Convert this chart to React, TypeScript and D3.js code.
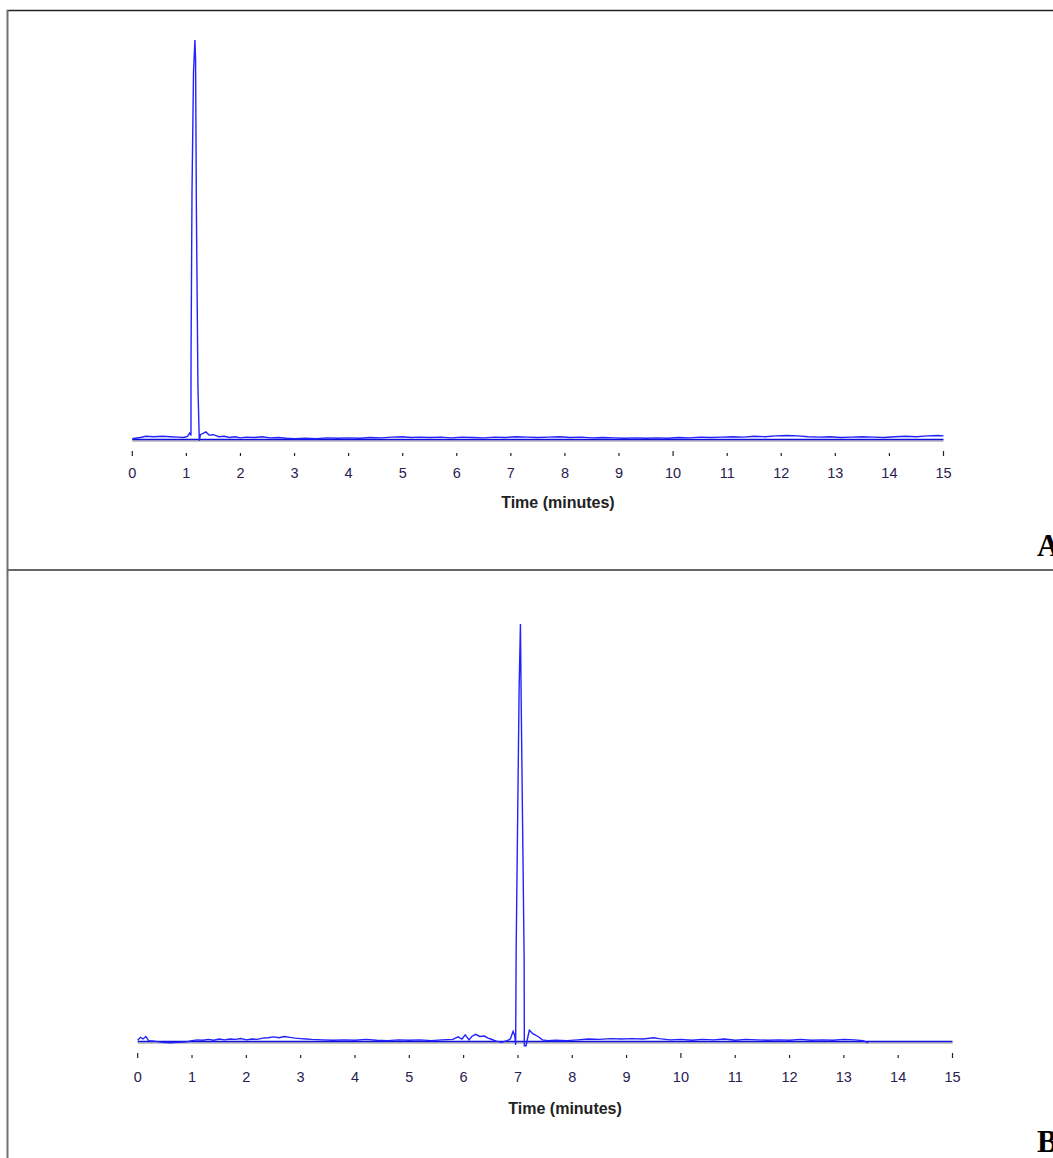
import React from "react";
import * as d3 from "d3";

// ---- data ----
const tickValues = [0, 1, 2, 3, 4, 5, 6, 7, 8, 9, 10, 11, 12, 13, 14, 15];
const majorTicks = [0, 10, 15];
const axisTitle = "Time (minutes)";
const panelLabels = ["A", "B"];

// Panel A chromatogram: [time (min), response (% of peak)]
const traceA: [number, number][] = [
  [0.0, 0.2], [0.15, 0.5], [0.25, 0.8], [0.4, 0.7], [0.55, 0.8], [0.7, 0.7], [0.85, 0.6], [0.95, 0.5],
  [1.02, 0.8], [1.06, 1.6], [1.08, 1.2], [1.085, 1.0], [1.086, 20.5], [1.104, 62], [1.132, 92],
  [1.158, 100], [1.17, 95], [1.185, 58], [1.214, 13], [1.239, -0.3], [1.26, 1.2], [1.3, 1.5],
  [1.36, 1.9], [1.42, 1.1], [1.5, 1.2], [1.6, 0.7], [1.7, 0.8], [1.8, 0.5], [1.9, 0.7], [2.0, 0.4],
  [2.1, 0.6], [2.25, 0.5], [2.4, 0.7], [2.55, 0.4], [2.7, 0.5], [2.85, 0.3], [3.0, 0.2], [3.2, 0.3],
  [3.4, 0.2], [3.6, 0.4], [3.8, 0.3], [4.0, 0.4], [4.2, 0.3], [4.4, 0.5], [4.6, 0.4], [4.8, 0.6],
  [5.0, 0.7], [5.15, 0.5], [5.3, 0.6], [5.5, 0.5], [5.7, 0.6], [5.9, 0.4], [6.1, 0.6], [6.3, 0.5],
  [6.5, 0.4], [6.7, 0.6], [6.9, 0.5], [7.1, 0.7], [7.3, 0.6], [7.5, 0.5], [7.7, 0.6], [7.9, 0.7],
  [8.1, 0.5], [8.3, 0.6], [8.5, 0.4], [8.7, 0.5], [8.9, 0.4], [9.1, 0.3], [9.3, 0.4], [9.5, 0.3],
  [9.7, 0.4], [9.9, 0.3], [10.1, 0.5], [10.3, 0.4], [10.5, 0.6], [10.7, 0.5], [10.9, 0.6], [11.1, 0.7],
  [11.3, 0.6], [11.5, 0.8], [11.7, 0.7], [11.9, 0.9], [12.1, 1.0], [12.3, 0.9], [12.5, 0.7], [12.7, 0.6],
  [12.9, 0.7], [13.1, 0.5], [13.3, 0.6], [13.5, 0.7], [13.7, 0.6], [13.9, 0.5], [14.1, 0.7], [14.3, 0.8],
  [14.5, 0.7], [14.7, 0.9], [14.9, 1.0], [15.0, 0.9],
];

// Panel B chromatogram
const traceB: [number, number][] = [
  [0.0, 0.3], [0.05, 1.0], [0.1, 0.6], [0.15, 1.2], [0.2, 0.2], [0.3, 0.1], [0.45, -0.2], [0.6, -0.3],
  [0.75, -0.2], [0.9, -0.1], [1.0, 0.2], [1.1, 0.4], [1.2, 0.3], [1.3, 0.5], [1.4, 0.3], [1.5, 0.6],
  [1.6, 0.4], [1.7, 0.6], [1.8, 0.5], [1.9, 0.7], [2.0, 0.4], [2.1, 0.6], [2.2, 0.5], [2.3, 0.8],
  [2.4, 0.9], [2.5, 1.1], [2.6, 0.9], [2.7, 1.2], [2.8, 1.0], [2.9, 0.8], [3.0, 0.7], [3.1, 0.6],
  [3.2, 0.5], [3.4, 0.4], [3.6, 0.3], [3.8, 0.4], [4.0, 0.3], [4.2, 0.5], [4.4, 0.3], [4.6, 0.2],
  [4.8, 0.4], [5.0, 0.3], [5.2, 0.4], [5.4, 0.2], [5.6, 0.4], [5.8, 0.5], [5.9, 1.1], [5.97, 0.6],
  [6.03, 1.6], [6.1, 0.4], [6.15, 1.2], [6.22, 1.7], [6.3, 1.2], [6.38, 1.3], [6.45, 0.8], [6.5, 0.6],
  [6.6, 0.1], [6.7, -0.2], [6.8, 0.2], [6.86, 0.6], [6.91, 2.4], [6.94, 1.5], [6.958, -0.8],
  [6.967, 21.3], [6.998, 57.2], [7.022, 84.7], [7.046, 100], [7.059, 82.3], [7.083, 54.8],
  [7.114, 20.1], [7.118, -1], [7.15, -1], [7.17, 0.3], [7.21, 2.7], [7.28, 1.8], [7.37, 1.2],
  [7.45, 0.4], [7.55, 0.2], [7.7, 0.3], [7.9, 0.2], [8.1, 0.4], [8.3, 0.6], [8.5, 0.5], [8.7, 0.7],
  [8.9, 0.6], [9.1, 0.7], [9.3, 0.6], [9.5, 0.9], [9.6, 0.7], [9.8, 0.4], [10.0, 0.5], [10.2, 0.3],
  [10.4, 0.5], [10.6, 0.4], [10.8, 0.6], [11.0, 0.3], [11.2, 0.5], [11.4, 0.4], [11.6, 0.3], [11.8, 0.4],
  [12.0, 0.3], [12.2, 0.5], [12.4, 0.3], [12.6, 0.4], [12.8, 0.3], [13.0, 0.5], [13.2, 0.4],
  [13.35, 0.2], [13.45, -0.3],
];

const baselineSpan: [number, number][] = [[0, 0], [15, 0]];

// ---- layout ----
const W = 1053;
const H = 1158;

type Panel = {
  data: [number, number][];
  x0: number; x1: number; yBase: number; yTop: number;
  tickY: number; labelY: number; titleY: number; letterY: number; label: string;
};

const panels: Panel[] = [
  { data: traceA, x0: 132.3, x1: 943.5, yBase: 439.5, yTop: 40, tickY: 454, labelY: 478, titleY: 508, letterY: 556, label: panelLabels[0] },
  { data: traceB, x0: 137.7, x1: 952.5, yBase: 1041.5, yTop: 624, tickY: 1056, labelY: 1082, titleY: 1114, letterY: 1152, label: panelLabels[1] },
];

function Chrom({ p }: { p: Panel }) {
  const x = d3.scaleLinear().domain([0, 15]).range([p.x0, p.x1]);
  const y = d3.scaleLinear().domain([0, 100]).range([p.yBase, p.yTop]);
  const line = d3.line<[number, number]>().x((d) => x(d[0])).y((d) => y(d[1]));
  return (
    <g>
      <path d={line(baselineSpan) || ""} transform="translate(0,1.5)" stroke="#8c8c8c" strokeWidth={1} fill="none" />
      <path d={line(baselineSpan) || ""} stroke="#1010d8" strokeWidth={1.7} fill="none" />
      <path d={line(p.data) || ""} stroke="#2222ff" strokeWidth={1.4} fill="none" strokeLinejoin="miter" />
      {tickValues.map((t) => {
        const major = majorTicks.includes(t);
        return (
          <g key={t}>
            <line x1={x(t)} x2={x(t)} y1={major ? p.tickY - 3 : p.tickY - 1} y2={p.tickY + 2} stroke="#222" strokeWidth={1.2} />
            <text x={x(t)} y={p.labelY} textAnchor="middle" fontFamily="Liberation Sans, Arial, sans-serif" fontSize={14.5} fill="#2a2050">
              {t}
            </text>
          </g>
        );
      })}
      <text x={(p.x0 + p.x1) / 2 + 20} y={p.titleY} textAnchor="middle" fontFamily="Liberation Sans, Arial, sans-serif" fontWeight="bold" fontSize={16} fill="#222">
        {axisTitle}
      </text>
      <text x={1037} y={p.letterY} fontFamily="Liberation Serif, Times New Roman, serif" fontWeight="bold" fontSize={31} fill="#000">
        {p.label}
      </text>
    </g>
  );
}

export default function App() {
  return (
    <svg width={W} height={H} style={{ position: "absolute", left: 0, top: 0, background: "#fff" }}>
      <rect x={0} y={0} width={W} height={H} fill="#fff" />
      <line x1={7} x2={W} y1={10.5} y2={10.5} stroke="#222" strokeWidth={1.5} />
      <line x1={7.5} x2={7.5} y1={10} y2={H} stroke="#707070" strokeWidth={2} />
      <line x1={7} x2={W} y1={570} y2={570} stroke="#666" strokeWidth={2} />
      {panels.map((p, i) => (
        <Chrom key={i} p={p} />
      ))}
    </svg>
  );
}
